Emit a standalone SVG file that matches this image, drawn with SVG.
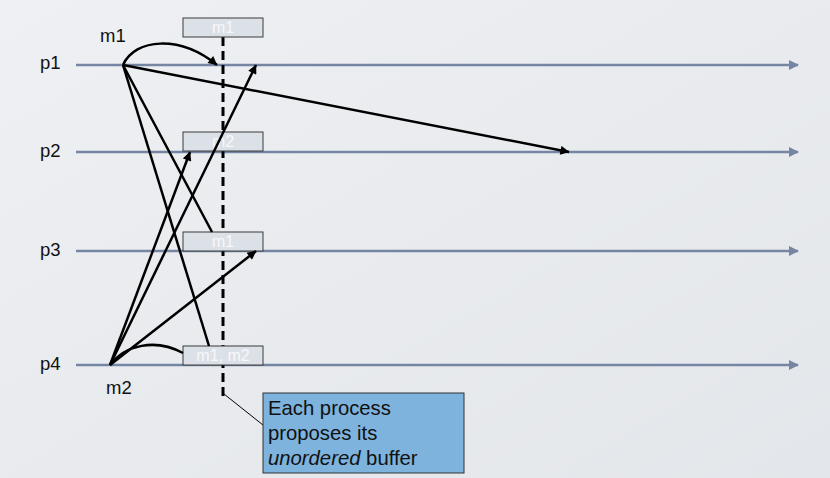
<svg xmlns="http://www.w3.org/2000/svg" width="830" height="478" viewBox="0 0 830 478">
<defs>
<linearGradient id="bg" x1="0" y1="0" x2="1" y2="1">
<stop offset="0" stop-color="#eef0f3"/>
<stop offset="1" stop-color="#e3e6ea"/>
</linearGradient>
<marker id="tl" viewBox="0 0 10 10" refX="9" refY="5" markerWidth="10" markerHeight="10" markerUnits="userSpaceOnUse" orient="auto">
<path d="M0,0 L10,5 L0,10 Z" fill="#7486a3"/>
</marker>
<marker id="ar" viewBox="0 0 10 10" refX="9.5" refY="5" markerWidth="11" markerHeight="9" markerUnits="userSpaceOnUse" orient="auto">
<path d="M0,0 L10,5 L0,10 Z" fill="#000"/>
</marker>
</defs>
<style>
.tl{stroke:#7486a3;stroke-width:2.5;fill:none}
.msg{stroke:#000;stroke-width:2.5;fill:none}
.lbl{font-family:"Liberation Sans",Arial,sans-serif;font-size:18.5px;fill:#111}
.box rect{fill:#dce1e7;stroke:#3a3a3a;stroke-width:1}
.box text{font-family:"Liberation Sans",Arial,sans-serif;font-size:16px;fill:#f7f8fa;text-anchor:middle}
.note{font-family:"Liberation Sans",Arial,sans-serif;font-size:20.3px;fill:#111}
</style>
<rect width="830" height="478" fill="url(#bg)"/>
<g id="timelines">
<line class="tl" x1="76" y1="65" x2="798" y2="65" marker-end="url(#tl)"/>
<line class="tl" x1="76" y1="152" x2="798" y2="152" marker-end="url(#tl)"/>
<line class="tl" x1="76" y1="251" x2="798" y2="251" marker-end="url(#tl)"/>
<line class="tl" x1="76" y1="365" x2="798" y2="365" marker-end="url(#tl)"/>
</g>
<g id="labels">
<text class="lbl" x="40" y="69">p1</text>
<text class="lbl" x="40" y="157">p2</text>
<text class="lbl" x="40" y="256">p3</text>
<text class="lbl" x="40" y="370">p4</text>
<text class="lbl" x="100" y="42">m1</text>
<text class="lbl" x="106" y="394">m2</text>
</g>
<line id="cut" x1="223" y1="37" x2="223" y2="401" stroke="#000" stroke-width="3" stroke-dasharray="9,5"/>
<g id="buffer-p1" class="box"><rect x="183" y="18" width="80" height="19"/><text x="223" y="33">m1</text></g>
<g id="buffer-p2" class="box"><rect x="183" y="132" width="80" height="19"/><text x="223" y="147">m2</text></g>
<g id="buffer-p3" class="box"><rect x="183" y="232" width="80" height="19"/><text x="223" y="247">m1</text></g>
<g id="buffer-p4" class="box"><rect x="183" y="346" width="80" height="19"/><text x="223" y="361">m1, m2</text></g>
<g id="connectors">
<path class="msg" d="M123,65 C135,38 180,35 217,65" marker-end="url(#ar)"/>
<line class="msg" x1="123" y1="65" x2="569" y2="152" marker-end="url(#ar)"/>
<line class="msg" x1="123" y1="65" x2="212" y2="232"/>
<line class="msg" x1="123" y1="65" x2="209" y2="346"/>
<line class="msg" x1="110" y1="365" x2="190" y2="152" marker-end="url(#ar)"/>
<line class="msg" x1="110" y1="365" x2="256" y2="65" marker-end="url(#ar)"/>
<line class="msg" x1="110" y1="365" x2="256" y2="251" marker-end="url(#ar)"/>
<path class="msg" d="M110,365 C125,345 155,338 183,353"/>
<line x1="224" y1="394" x2="263" y2="425" stroke="#000" stroke-width="1"/>
</g>
<g id="note">
<rect x="263" y="393" width="201" height="80" fill="#7db3dd" stroke="#333" stroke-width="1"/>
<text class="note" x="268" y="415">Each process</text>
<text class="note" x="268" y="440">proposes its</text>
<text class="note" x="268" y="465"><tspan font-style="italic">unordered</tspan> buffer</text>
</g>
</svg>
